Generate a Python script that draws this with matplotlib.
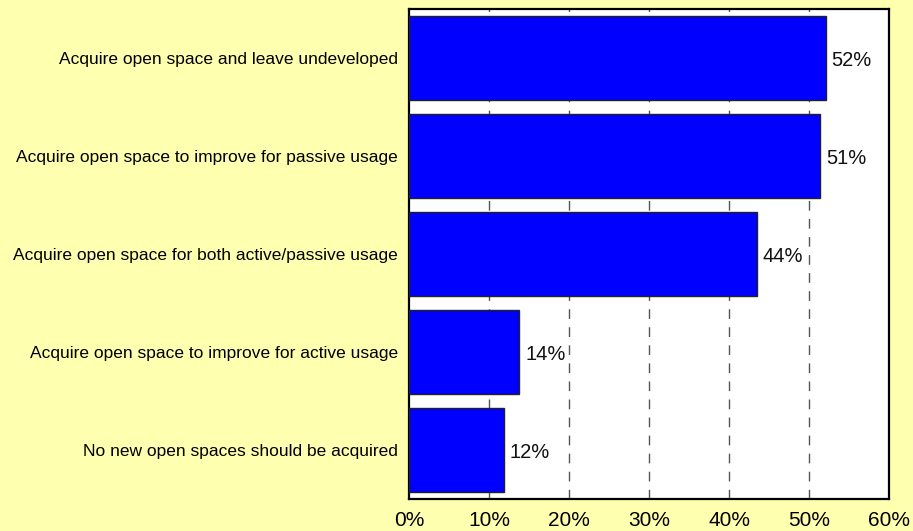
import matplotlib
matplotlib.use("Agg")
import matplotlib.pyplot as plt

categories = [
    "Acquire open space and leave undeveloped",
    "Acquire open space to improve for passive usage",
    "Acquire open space for both active/passive usage",
    "Acquire open space to improve for active usage",
    "No new open spaces should be acquired",
]
values = [52.1, 51.4, 43.5, 13.8, 11.9]
labels = ["52%", "51%", "44%", "14%", "12%"]
xticks = [0, 10, 20, 30, 40, 50, 60]
xticklabels = ["0%", "10%", "20%", "30%", "40%", "50%", "60%"]

plt.rcParams['font.family'] = ['Liberation Sans', 'DejaVu Sans']
bg = '#FFFFB0'
fig = plt.figure(figsize=(9.13, 5.31), dpi=100, facecolor=bg)
ax = fig.add_axes([0.448, 0.0603, 0.5257, 0.9227])
ax.set_facecolor('white')

y = list(range(len(categories)))
ax.barh(y, values, height=0.86, color='#0000FF', edgecolor='#222222', linewidth=1, zorder=3)
for yi, v, lab in zip(y, values, labels):
    ax.text(v + 0.7, yi + 0.03, lab, va='center', ha='left', fontsize=14.5, color='#111111', zorder=4)

ax.set_xlim(0, 60)
ax.set_ylim(len(categories) - 0.5, -0.5)
ax.set_xticks(xticks)
ax.set_xticklabels(xticklabels, fontsize=15)
ax.set_yticks(y)
ax.set_yticklabels(categories, fontsize=12.5)
ax.tick_params(axis='y', length=0, pad=8)
ax.tick_params(axis='x', length=0, pad=9)
for g in xticks[1:-1]:
    ax.axvline(g, color='#555555', linestyle=(0, (7, 6)), linewidth=1, zorder=1)
for s in ax.spines.values():
    s.set_linewidth(1.6)
    s.set_color('black')

fig.savefig('out.png', dpi=100, facecolor=bg)
